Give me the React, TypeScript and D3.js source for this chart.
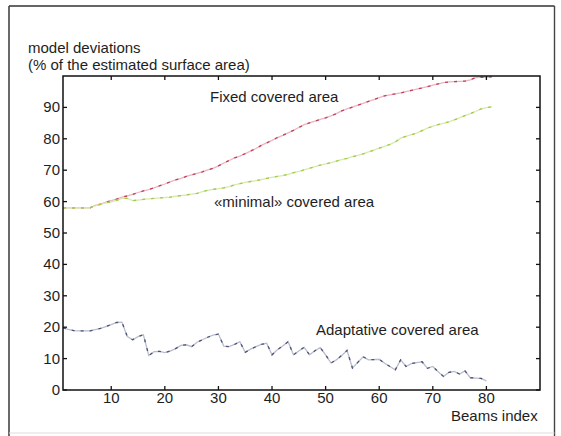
import React from "react";
import * as d3 from "d3";

const xTicks = [10, 20, 30, 40, 50, 60, 70, 80];
const yTicks = [0, 10, 20, 30, 40, 50, 60, 70, 80, 90];

const fixedArea = [
  58.0, 58.0, 58.0, 58.0, 58.0, 58.0, 58.8, 59.2, 59.8, 60.3,
  60.8, 61.4, 61.8, 62.3, 62.9, 63.4, 63.8, 64.4, 65.0, 65.6,
  66.3, 66.9, 67.4, 68.0, 68.5, 69.0, 69.5, 70.1, 70.6, 71.4,
  72.3, 73.1, 73.9, 74.5, 75.3, 76.1, 76.9, 77.9, 78.7, 79.5,
  80.4, 81.1, 81.9, 82.7, 83.6, 84.5, 85.1, 85.6, 86.2, 86.7,
  87.3, 88.0, 88.9, 89.5, 90.1, 90.7, 91.3, 91.9, 92.5, 93.1,
  93.7, 94.0, 94.3, 94.6, 95.0, 95.4, 95.8, 96.2, 96.6, 97.1,
  97.5, 97.9, 98.1, 98.2, 98.3, 98.4, 98.8, 99.5, 99.6, 99.6,
  99.7,
];

const minimalArea = [
  58.0, 58.0, 58.0, 58.0, 58.0, 58.0, 58.6, 59.1, 59.6, 59.9,
  60.4, 61.0, 61.0, 60.3, 60.5, 60.7, 60.9, 61.0, 61.2, 61.3,
  61.4, 61.7, 61.9, 62.1, 62.4, 62.6, 63.2, 63.6, 63.9, 64.1,
  64.4, 64.8, 65.3, 65.7, 66.1, 66.4, 66.7, 67.0, 67.4, 67.7,
  68.0, 68.3, 68.7, 69.2, 69.6, 70.1, 70.6, 71.1, 71.6, 72.0,
  72.4, 72.9, 73.4, 73.8, 74.3, 74.7, 75.2, 75.8, 76.4, 77.0,
  77.6, 78.2, 79.0, 80.2, 80.8, 81.3, 81.8, 82.6, 83.4, 84.0,
  84.5, 84.9, 85.4, 86.0, 86.7, 87.4, 88.0, 88.7, 89.5, 89.9,
  90.2,
];

const adaptiveArea = [
  19.8, 19.3, 18.9, 18.8, 18.8, 18.8, 19.2, 19.6, 20.2, 20.8,
  21.5, 21.6, 17.0, 16.0, 17.0, 17.6, 11.0, 12.2, 12.3, 11.9,
  12.4, 13.2, 14.2, 14.4, 13.8, 15.2, 16.0, 16.8, 17.5, 17.8,
  14.0, 13.8, 14.5, 15.4, 12.0, 13.0, 13.8, 14.5, 14.9, 11.2,
  12.8, 14.0, 15.4, 11.2, 12.4, 13.6, 11.2, 12.5, 13.5, 11.2,
  8.6, 9.6, 11.0, 12.6, 7.0, 8.8, 10.6, 9.6, 9.7, 9.8,
  8.5, 7.5, 6.4, 9.6, 7.5, 8.4, 8.7, 9.0, 6.9, 7.5,
  5.8, 4.3, 5.6, 5.9, 5.1, 6.1, 3.9, 3.8, 3.7, 2.9,
];

const seriesLabels = ["Fixed covered area", "«minimal» covered area", "Adaptative covered area"];

const W = 561;
const H = 436;
const FONT = "'Liberation Sans', Arial, Helvetica, sans-serif";

export default function App() {
  const x = d3.scaleLinear().domain([1, 90]).range([63, 540]);
  const y = d3.scaleLinear().domain([0, 100]).range([390, 76]);
  const line = d3
    .line<number>()
    .x((_, i) => x(i + 1))
    .y((v) => y(v));

  const series = [
    { data: fixedArea, light: "#ebb4c0", dark: "#c04058" },
    { data: minimalArea, light: "#d6eab0", dark: "#a0cc44" },
    { data: adaptiveArea, light: "#b8bccc", dark: "#4c5478" },
  ];

  const [x0, x1] = x.range();
  const [y0, y1] = y.range();

  return (
    <svg
      width={W}
      height={H}
      style={{ position: "absolute", left: 0, top: 0, background: "#fff", fontFamily: FONT }}
    >
      <rect x={0} y={0} width={W} height={H} fill="#fff" />
      {/* outer frame */}
      <line x1={9} y1={6} x2={554.5} y2={6} stroke="#333" strokeWidth={1.4} />
      <line x1={9} y1={6} x2={9} y2={436} stroke="#444" strokeWidth={1.6} />
      <line x1={554.5} y1={6} x2={554.5} y2={436} stroke="#444" strokeWidth={1.4} />
      <line x1={9} y1={433} x2={554.5} y2={433} stroke="#ddd" strokeWidth={1} />

      {/* axis title */}
      <text x={28} y={53} fontSize={15} fill="#1e1e1e">model deviations</text>
      <text x={28} y={70} fontSize={15} fill="#1e1e1e">(% of the estimated surface area)</text>

      {/* series */}
      {series.map((s, k) => (
        <g key={k}>
          <path d={line(s.data) || ""} fill="none" stroke={s.light} strokeWidth={1.3} />
          <path d={line(s.data) || ""} fill="none" stroke={s.dark} strokeWidth={1.3} strokeDasharray="3 6" />
        </g>
      ))}

      {/* box */}
      <rect x={x0} y={y1} width={x1 - x0} height={y0 - y1} fill="none" stroke="#111" strokeWidth={1.5} />

      {/* x ticks */}
      {xTicks.map((t) => (
        <g key={"x" + t}>
          <line x1={x(t)} x2={x(t)} y1={y0} y2={y0 - 4} stroke="#111" strokeWidth={1.3} />
          <line x1={x(t)} x2={x(t)} y1={y1} y2={y1 + 4} stroke="#111" strokeWidth={1.3} />
          <text x={x(t)} y={403} fontSize={15} textAnchor="middle" fill="#1e1e1e">{t}</text>
        </g>
      ))}

      {/* y ticks */}
      {yTicks.map((t) => (
        <g key={"y" + t}>
          <line x1={x0} x2={x0 + 4} y1={y(t)} y2={y(t)} stroke="#111" strokeWidth={1.3} />
          <line x1={x1} x2={x1 - 4} y1={y(t)} y2={y(t)} stroke="#111" strokeWidth={1.3} />
          <text x={60} y={y(t) + 5} fontSize={15} textAnchor="end" fill="#1e1e1e">{t}</text>
        </g>
      ))}

      {/* series labels */}
      <text x={210} y={102} fontSize={15} fill="#1e1e1e">{seriesLabels[0]}</text>
      <text x={214} y={207} fontSize={15} fill="#1e1e1e">{seriesLabels[1]}</text>
      <text x={316} y={335} fontSize={15} fill="#1e1e1e">{seriesLabels[2]}</text>

      <text x={451} y={421} fontSize={15} fill="#1e1e1e">Beams index</text>
    </svg>
  );
}
